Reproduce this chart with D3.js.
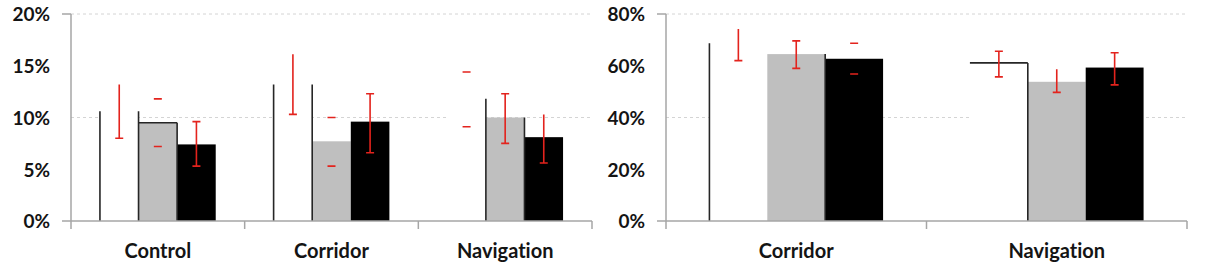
<!DOCTYPE html>
<html>
<head>
<meta charset="utf-8">
<script src="https://cdn.jsdelivr.net/npm/d3@7"></script>
<style>
  body { margin: 0; background: #fff; }
  svg text { font-family: Lato, "Open Sans", sans-serif; font-weight: bold; fill: #141414; font-variant-ligatures: none; }
</style>
</head>
<body>
<svg id="chart" width="1207" height="275"></svg>
<script>
// series order inside each group: white, gray, black
const series = ['white', 'gray', 'black'];

// left panel (0-20%)
const leftGroups = ['Control', 'Corridor', 'Navigation'];
const leftTicks = [0, 5, 10, 15, 20];
const leftGrid = [10, 20];
const leftWhite = [10.6, 13.2, 11.8];
const leftGray = [9.5, 7.7, 10.0];
const leftBlack = [7.4, 9.6, 8.1];
const leftWhiteCI = [[8.0, 13.2], [10.3, 16.1], [9.1, 14.4]];
const leftGrayCI = [[7.2, 11.8], [5.3, 10.0], [7.5, 12.3]];
const leftBlackCI = [[5.3, 9.6], [6.6, 12.3], [5.6, 10.3]];

// right panel (0-80%)
const rightGroups = ['Corridor', 'Navigation'];
const rightTicks = [0, 20, 40, 60, 80];
const rightGrid = [40, 80];
const rightWhite = [68.7, 61.1];
const rightGray = [64.5, 53.8];
const rightBlack = [62.7, 59.3];
const rightWhiteCI = [[62.0, 74.2], [55.7, 65.6]];
const rightGrayCI = [[59.0, 69.6], [49.7, 58.6]];
const rightBlackCI = [[56.8, 68.7], [52.6, 65.0]];

// how the (scanned) original shows each mark: visible outline edges and error bar look
const leftEdges = [['lr', 'tr', ''], ['lr', '', ''], ['r', 'r', '']];
const leftErrStyle = [['low', 'caps', 'full'], ['low', 'caps', 'full'], ['caps', 'full', 'low']];
const rightEdges = [['l', 'r', ''], ['tr', '', '']];
const rightErrStyle = [['low', 'full', 'caps'], ['full', 'low', 'full']];

const colors = {white: '#ffffff', gray: '#bfbfbf', black: '#000000'};
const red = '#e3231d';
const axisColor = '#a6a6a6';

const svg = d3.select('#chart');
const plotTop = 14, plotBottom = 221;

function panel(opt) {
    const g = svg.append('g');

    const x = d3.scaleBand().domain(opt.groups).range([opt.x0, opt.x1]);
    const inner = d3.scaleBand().domain(series).range([0, x.bandwidth()]).paddingOuter(0.75);
    const y = d3.scaleLinear().domain([0, opt.max]).range([plotBottom, plotTop]);

    //gridlines
    g.selectAll('.grid')
        .data(opt.grid)
        .enter().append('line')
        .attr('x1', opt.x0).attr('x2', opt.x1)
        .attr('y1', d => y(d)).attr('y2', d => y(d))
        .attr('stroke', '#d4d4d4')
        .attr('stroke-dasharray', '3,3');

    //build rows for the bars
    const rows = [];
    opt.groups.forEach((grp, i) => {
        series.forEach((s, j) => {
            rows.push({
                group: grp, series: s,
                value: opt.values[j][i],
                ci: opt.ci[j][i],
                edges: opt.edges[i][j],
                err: opt.errStyle[i][j]
            });
        });
    });

    const bx = d => x(d.group) + inner(d.series);
    const bw = inner.bandwidth();

    g.selectAll('.bar')
        .data(rows)
        .enter().append('rect')
        .attr('x', bx)
        .attr('width', bw)
        .attr('y', d => y(d.value))
        .attr('height', d => y(0) - y(d.value))
        .attr('fill', d => colors[d.series]);

    //outline pieces
    g.selectAll('.edge')
        .data(rows.filter(d => d.edges))
        .enter().append('path')
        .attr('d', d => {
            const x0 = bx(d), x1 = bx(d) + bw, yt = y(d.value), yb = y(0);
            let p = '';
            if (d.edges.includes('l')) p += `M${x0},${yb}V${yt}`;
            if (d.edges.includes('t')) p += `M${x0},${yt}H${x1}`;
            if (d.edges.includes('r')) p += `M${x1},${yt}V${yb}`;
            return p;
        })
        .attr('fill', 'none')
        .attr('stroke', '#262626')
        .attr('stroke-width', 1.6);

    //y axis
    const yAxis = g.append('g')
        .attr('transform', `translate(${opt.x0},0)`)
        .call(d3.axisLeft(y).tickValues(opt.ticks).tickFormat(d => d + '%').tickSize(0).tickPadding(21));
    yAxis.select('.domain').remove();
    yAxis.selectAll('text')
        .style('font-size', '19px')
        .attr('dy', '0.36em');

    g.append('line')
        .attr('x1', opt.x0).attr('x2', opt.x0)
        .attr('y1', plotTop).attr('y2', plotBottom)
        .attr('stroke', axisColor).attr('stroke-width', 1.5);
    g.append('line')
        .attr('x1', opt.x0 - 9).attr('x2', opt.x0)
        .attr('y1', plotTop).attr('y2', plotTop)
        .attr('stroke', axisColor).attr('stroke-width', 1.5);

    //x axis
    g.append('line')
        .attr('x1', opt.x0 - 9).attr('x2', opt.x1)
        .attr('y1', plotBottom).attr('y2', plotBottom)
        .attr('stroke', axisColor).attr('stroke-width', 1.5);

    const bounds = opt.groups.map(d => x(d)).concat([x.range()[1]]);
    g.selectAll('.xtick')
        .data(bounds)
        .enter().append('line')
        .attr('x1', d => d).attr('x2', d => d)
        .attr('y1', plotBottom).attr('y2', plotBottom + 8)
        .attr('stroke', axisColor).attr('stroke-width', 1.5);

    g.selectAll('.cat')
        .data(opt.groups)
        .enter().append('text')
        .attr('x', d => x(d) + x.bandwidth() / 2)
        .attr('y', 258)
        .attr('text-anchor', 'middle')
        .style('font-size', '20px')
        .text(d => d);

    //error bars
    const cap = 4;
    g.selectAll('.err')
        .data(rows)
        .enter().append('path')
        .attr('d', d => {
            const cx = bx(d) + bw / 2, lo = y(d.ci[0]), hi = y(d.ci[1]);
            if (d.err === 'caps') return `M${cx - cap},${lo}H${cx + cap}M${cx - cap},${hi}H${cx + cap}`;
            if (d.err === 'low') return `M${cx},${hi}V${lo}M${cx - cap},${lo}H${cx + cap}`;
            return `M${cx},${hi}V${lo}M${cx - cap},${lo}H${cx + cap}M${cx - cap},${hi}H${cx + cap}`;
        })
        .attr('fill', 'none')
        .attr('stroke', red)
        .attr('stroke-width', 1.6);
}

panel({
    groups: leftGroups, x0: 71, x1: 592, max: 20,
    ticks: leftTicks, grid: leftGrid,
    values: [leftWhite, leftGray, leftBlack],
    ci: [leftWhiteCI, leftGrayCI, leftBlackCI],
    edges: leftEdges, errStyle: leftErrStyle
});

panel({
    groups: rightGroups, x0: 666, x1: 1187, max: 80,
    ticks: rightTicks, grid: rightGrid,
    values: [rightWhite, rightGray, rightBlack],
    ci: [rightWhiteCI, rightGrayCI, rightBlackCI],
    edges: rightEdges, errStyle: rightErrStyle
});
</script>
</body>
</html>
